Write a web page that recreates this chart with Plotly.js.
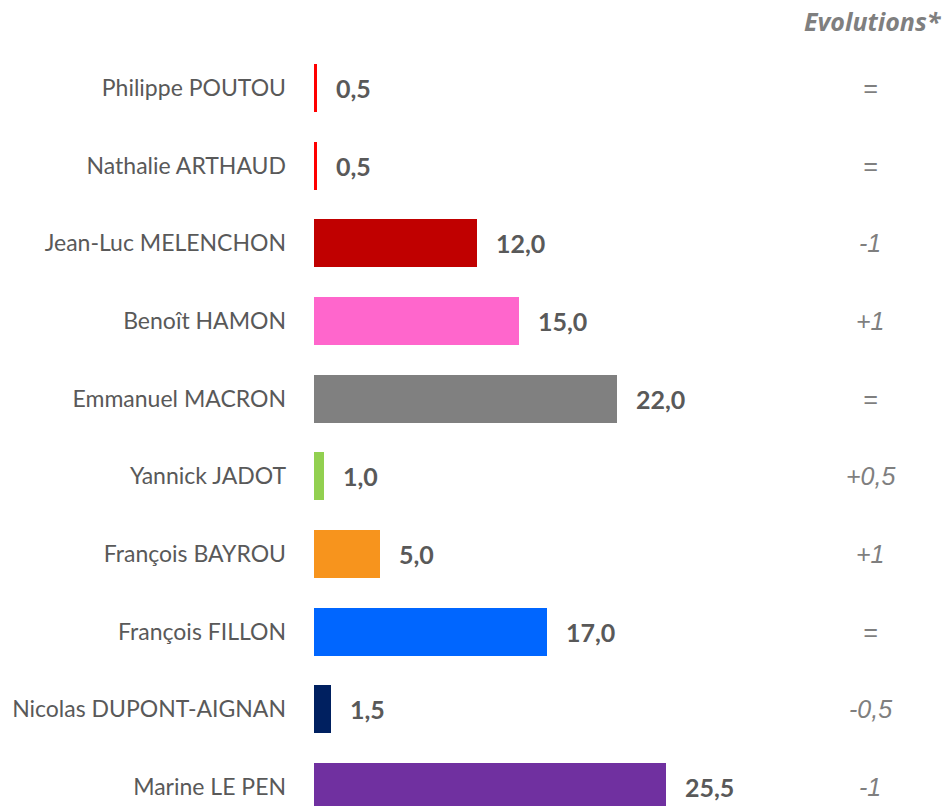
<!DOCTYPE html>
<html>
<head>
<meta charset="utf-8">
<script src="https://cdn.plot.ly/plotly-3.0.1.min.js"></script>
<style>html,body{margin:0;padding:0;background:#fff;}#chart{width:949px;height:806px;}</style>
</head>
<body>
<div id="chart"></div>
<script>
const candidates = ["Philippe POUTOU","Nathalie ARTHAUD","Jean-Luc MELENCHON","Benoît HAMON","Emmanuel MACRON","Yannick JADOT","François BAYROU","François FILLON","Nicolas DUPONT-AIGNAN","Marine LE PEN"];
const scores = [0.5,0.5,12.0,15.0,22.0,1.0,5.0,17.0,1.5,25.5];
const scoreLabels = ["0,5","0,5","12,0","15,0","22,0","1,0","5,0","17,0","1,5","25,5"];
const evolutions = ["=","=","-1","+1","=","+0,5","+1","=","-0,5","-1"];
const colors = ["#FF0000","#FF0000","#C00000","#FF66CC","#808080","#92D050","#F7941D","#0066FF","#002060","#7030A0"];

const trace = {
  type: "bar",
  orientation: "h",
  y: candidates,
  x: scores,
  marker: {color: colors},
  width: 0.62,
  hoverinfo: "skip",
  cliponaxis: true
};

const plotLeft = 314, plotWidth = 949 - 314;
const pxPerUnit = 13.95;
const xStart = 0.287;
const annotations = [];
candidates.forEach((c, i) => {
  annotations.push({
    x: scores[i], y: c, xref: "x", yref: "y",
    text: "<b>" + scoreLabels[i] + "</b>",
    showarrow: false, xanchor: "left", yanchor: "middle", xshift: 17,
    font: {family: "Lato, sans-serif", size: 25, color: "#595959"}
  });
  annotations.push({
    x: (870 - plotLeft) / plotWidth, y: c, xref: "paper", yref: "y",
    text: "<i>" + evolutions[i] + "</i>",
    showarrow: false, xanchor: "center", yanchor: "middle",
    font: {family: "Liberation Sans, Arial, sans-serif", size: 25, color: "#7F7F7F"}
  });
});
annotations.push({
  x: (944 - plotLeft) / plotWidth, y: 1 - 21/806, xref: "paper", yref: "paper",
  text: "<b><i>Evolutions*</i></b>",
  showarrow: false, xanchor: "right", yanchor: "middle",
  font: {family: "Open Sans, sans-serif", size: 25, color: "#7F7F7F"}
});

const layout = {
  width: 949, height: 806,
  margin: {l: plotLeft, r: 0, t: 0, b: 0},
  paper_bgcolor: "#ffffff", plot_bgcolor: "#ffffff",
  showlegend: false,
  bargap: 0,
  xaxis: {range: [xStart, xStart + plotWidth/pxPerUnit], visible: false, fixedrange: true},
  yaxis: {
    type: "category", categoryorder: "array", categoryarray: candidates,
    range: [9.245, -1.133],
    showgrid: false, zeroline: false, showline: false, ticks: "",
    ticklabelstandoff: 27,
    tickfont: {family: "Lato, sans-serif", size: 23, color: "#595959"}
  },
  annotations: annotations
};

Plotly.newPlot("chart", [trace], layout, {displayModeBar: false, staticPlot: true});
</script>
</body>
</html>
